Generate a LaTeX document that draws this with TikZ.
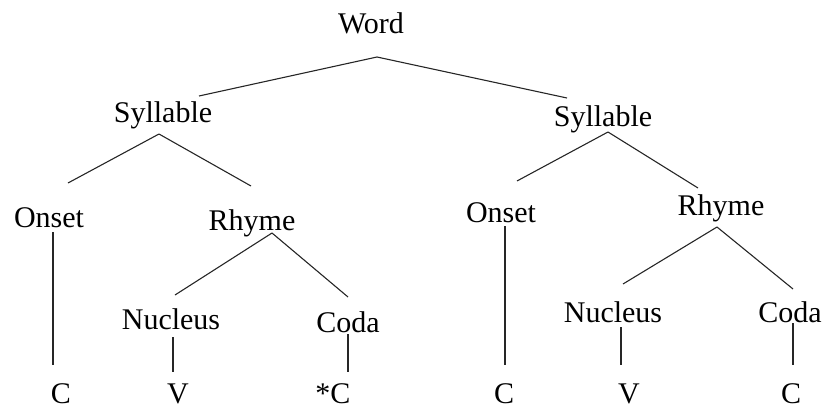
\documentclass[tikz,border=0pt]{standalone}
\usepackage{fontspec}
\setmainfont{Liberation Serif}
\begin{document}
\begin{tikzpicture}[x=1pt,y=-1pt,
  lbl/.style={anchor=base,inner sep=0pt,font=\fontsize{30}{36}\selectfont},
  edge/.style={line width=1.1pt,draw=black!85}]
\useasboundingbox (0,0) rectangle (825,410);
% nodes
\node[lbl] (word) at (371,33) {Word};
\node[lbl] (sylL) at (163,122) {Syllable};
\node[lbl] (sylR) at (603,126) {Syllable};
\node[lbl] (onsL) at (49,227) {Onset};
\node[lbl] (rhyL) at (252,230) {Rhyme};
\node[lbl] (onsR) at (501,222) {Onset};
\node[lbl] (rhyR) at (721,215) {Rhyme};
\node[lbl] (nucL) at (171,329) {Nucleus};
\node[lbl] (codL) at (348,332) {Coda};
\node[lbl] (nucR) at (613,322) {Nucleus};
\node[lbl] (codR) at (790,322) {Coda};
\node[lbl] (cL) at (61,403) {C};
\node[lbl] (vL) at (178,403) {V};
\node[lbl] (scL) at (333,403) {*C};
\node[lbl] (cR) at (504,403) {C};
\node[lbl] (vR) at (629,403) {V};
\node[lbl] (cR2) at (791,403) {C};
% connectors
\draw[edge] ([shift={(6,24)}]word.base) -- ([shift={(36,-26)}]sylL.base);
\draw[edge] ([shift={(6,24)}]word.base) -- ([shift={(-36,-28)}]sylR.base);
\draw[edge] ([shift={(-4,12)}]sylL.base) -- ([shift={(19,-44)}]onsL.base);
\draw[edge] ([shift={(-4,12)}]sylL.base) -- ([shift={(-1,-44)}]rhyL.base);
\draw[edge] ([shift={(5,6)}]sylR.base) -- ([shift={(16,-41)}]onsR.base);
\draw[edge] ([shift={(5,6)}]sylR.base) -- ([shift={(-23,-27)}]rhyR.base);
\draw[edge] ([shift={(4,5)}]onsL.base) -- ([shift={(-8,-38)}]cL.base);
\draw[edge] ([shift={(20,3)}]rhyL.base) -- ([shift={(4,-34)}]nucL.base);
\draw[edge] ([shift={(20,3)}]rhyL.base) -- ([shift={(0,-35)}]codL.base);
\draw[edge] ([shift={(2,8)}]nucL.base) -- ([shift={(-5,-31)}]vL.base);
\draw[edge] ([shift={(0,2)}]codL.base) -- ([shift={(15,-31)}]scL.base);
\draw[edge] ([shift={(4,4)}]onsR.base) -- ([shift={(1,-38)}]cR.base);
\draw[edge] ([shift={(-4,12)}]rhyR.base) -- ([shift={(10,-38)}]nucR.base);
\draw[edge] ([shift={(-4,12)}]rhyR.base) -- ([shift={(3,-33)}]codR.base);
\draw[edge] ([shift={(8,5)}]nucR.base) -- ([shift={(-8,-38)}]vR.base);
\draw[edge] ([shift={(3,1)}]codR.base) -- ([shift={(2,-38)}]cR2.base);
\end{tikzpicture}
\end{document}
